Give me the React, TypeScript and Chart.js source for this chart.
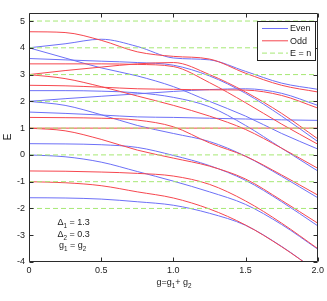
import React, { useEffect, useRef } from "react";
import { Chart, registerables } from "chart.js";
Chart.register(...registerables);

// coupling g = g1 + g2
const gValues = [0, 0.25, 0.5, 0.75, 1, 1.25, 1.5, 1.75, 2];

// Even parity levels
const even1 = [-1.6, -1.61, -1.65, -1.75, -1.88, -2.18, -2.63, -3.42, -4.37];
const even2 = [0, -0.07, -0.27, -0.62, -0.98, -1.38, -1.85, -2.6, -3.52];
const even3 = [0.42, 0.41, 0.38, 0.28, -0.02, -0.4, -0.95, -1.75, -2.65];
const even4 = [1.6, 1.55, 1.49, 1.42, 1.4, 1.37, 1.34, 1.31, 1.29];
const even5 = [2.0, 1.85, 1.5, 1.1, 0.8, 0.5, -0.05, -0.8, -1.6];
const even6 = [2.0, 2.1, 2.19, 2.28, 2.37, 2.44, 2.47, 2.3, 1.85];
const even7 = [2.4, 2.4, 2.38, 2.32, 2.15, 1.8, 1.1, 0.25, -0.6];
const even8 = [3.6, 3.55, 3.5, 3.45, 3.35, 2.95, 2.3, 1.45, 0.5];
const even9 = [4.0, 4.15, 4.32, 4.05, 3.62, 3.55, 3.12, 2.68, 2.45];
const even10 = [4.0, 3.62, 3.25, 2.95, 2.55, 2.0, 1.45, 0.8, 0.22];

// Odd parity levels
const odd1 = [-1.0, -1.04, -1.15, -1.38, -1.61, -2.02, -2.62, -3.43, -4.37];
const odd2 = [-0.6, -0.61, -0.64, -0.69, -0.79, -1.1, -1.72, -2.55, -3.5];
const odd3 = [1.0, 0.9, 0.58, 0.18, -0.12, -0.42, -0.9, -1.7, -2.55];
const odd4 = [1, 1, 1, 1, 1, 1, 1, 1, 1];
const odd5 = [1.4, 1.39, 1.37, 1.3, 1.05, 0.45, -0.05, -0.75, -1.5];
const odd6 = [2.6, 2.58, 2.53, 2.47, 2.45, 2.43, 2.42, 2.22, 1.75];
const odd7 = [3.0, 3.15, 3.28, 3.4, 3.45, 3.0, 2.35, 1.55, 0.6];
const odd8 = [3.0, 2.85, 2.55, 2.2, 1.85, 1.45, 0.95, 0.25, -0.5];
const odd9 = [3.4, 3.4, 3.4, 3.38, 3.3, 2.7, 1.95, 1.15, 0.4];
const odd10 = [4.6, 4.57, 4.28, 3.85, 3.68, 3.58, 3.05, 2.6, 2.35];

const evenSeries = [even1, even2, even3, even4, even5, even6, even7, even8, even9, even10];
const oddSeries = [odd1, odd2, odd3, odd4, odd5, odd6, odd7, odd8, odd9, odd10];

// E = n reference lines
const nLevels = [-2, -1, 0, 1, 2, 3, 4, 5];

const xTicks = [0, 0.5, 1, 1.5, 2];
const yTicks = [-4, -3, -2, -1, 0, 1, 2, 3, 4, 5];
const xRange = [0, 2];
const yRange = [-4, 5.3];

const BLUE = "#6d70f7";
const RED = "#f6474f";
const GREEN = "#a6e874";
const AXIS = "#2b2b2b";
const FONT = "'Liberation Sans', Arial, Helvetica, sans-serif";

type Part = { t: string; sub?: boolean };

function richWidth(ctx: CanvasRenderingContext2D, parts: Part[], size: number) {
  let w = 0;
  for (const p of parts) {
    ctx.font = `${p.sub ? size * 0.7 : size}px ${FONT}`;
    w += ctx.measureText(p.t).width;
  }
  return w;
}

function drawRich(ctx: CanvasRenderingContext2D, parts: Part[], x: number, y: number, size: number) {
  let cx = x;
  ctx.textAlign = "left";
  ctx.textBaseline = "alphabetic";
  for (const p of parts) {
    ctx.font = `${p.sub ? size * 0.7 : size}px ${FONT}`;
    ctx.fillText(p.t, cx, p.sub ? y + 3 : y);
    cx += ctx.measureText(p.t).width;
  }
}

const decorPlugin = {
  id: "decor",
  afterDraw(chart: any) {
    const { ctx, chartArea, scales } = chart;
    const { left, right, top, bottom } = chartArea;
    const xs = scales.x;
    const ys = scales.y;
    ctx.save();
    ctx.strokeStyle = AXIS;
    ctx.lineWidth = 1;
    const L = Math.round(left) + 0.5;
    const R = Math.round(right) - 0.5;
    const T = Math.round(top) + 0.5;
    const B = Math.round(bottom) - 0.5;
    ctx.beginPath();
    ctx.rect(L, T, R - L, B - T);
    ctx.stroke();
    ctx.beginPath();
    for (const v of yTicks) {
      const py = Math.round(ys.getPixelForValue(v)) + 0.5;
      ctx.moveTo(L, py);
      ctx.lineTo(L + 4, py);
      ctx.moveTo(R, py);
      ctx.lineTo(R - 4, py);
    }
    for (const v of xTicks) {
      const px = Math.round(xs.getPixelForValue(v)) + 0.5;
      ctx.moveTo(px, B);
      ctx.lineTo(px, B - 4);
      ctx.moveTo(px, T);
      ctx.lineTo(px, T + 4);
    }
    ctx.stroke();

    // legend box
    const lx = 257.5, ly = 21.5, lw = 58, lh = 39;
    ctx.fillStyle = "#ffffff";
    ctx.fillRect(lx, ly, lw, lh);
    ctx.strokeStyle = "#222";
    ctx.strokeRect(lx, ly, lw, lh);
    const rows = [
      { label: "Even", color: BLUE, dash: [] as number[] },
      { label: "Odd", color: RED, dash: [] as number[] },
      { label: "E = n", color: GREEN, dash: [5, 3] },
    ];
    rows.forEach((r, i) => {
      const yy = 28.5 + i * 12.3;
      ctx.beginPath();
      ctx.setLineDash(r.dash);
      ctx.strokeStyle = r.color;
      ctx.moveTo(262, yy);
      ctx.lineTo(288, yy);
      ctx.stroke();
      ctx.setLineDash([]);
      ctx.fillStyle = "#222";
      ctx.font = `9px ${FONT}`;
      ctx.textAlign = "left";
      ctx.textBaseline = "middle";
      ctx.fillText(r.label, 290, yy + 0.5);
    });

    // parameter annotation
    ctx.fillStyle = "#222";
    drawRich(ctx, [{ t: "\u0394" }, { t: "1", sub: true }, { t: " = 1.3" }], 57.5, 225, 9);
    drawRich(ctx, [{ t: "\u0394" }, { t: "2", sub: true }, { t: " = 0.3" }], 57.5, 237, 9);
    drawRich(ctx, [{ t: "g" }, { t: "1", sub: true }, { t: " = g" }, { t: "2", sub: true }], 59, 248, 9);

    // x title
    const xt: Part[] = [{ t: "g=g" }, { t: "1", sub: true }, { t: "+ g" }, { t: "2", sub: true }];
    const w = richWidth(ctx, xt, 9);
    drawRich(ctx, xt, 174 - w / 2, 285, 9);

    // y title
    ctx.save();
    ctx.translate(8.5, 137);
    ctx.rotate(-Math.PI / 2);
    ctx.font = `10px ${FONT}`;
    ctx.textAlign = "center";
    ctx.textBaseline = "middle";
    ctx.fillText("E", 0, 0);
    ctx.restore();
    ctx.restore();
  },
};

export default function App() {
  const ref = useRef<HTMLCanvasElement | null>(null);
  useEffect(() => {
    if (!ref.current) return;
    const toPoints = (s: number[]) => gValues.map((g, i) => ({ x: g, y: s[i] }));
    const datasets: any[] = [];
    nLevels.forEach((n) =>
      datasets.push({
        data: [
          { x: xRange[0], y: n },
          { x: xRange[1], y: n },
        ],
        borderColor: GREEN,
        borderDash: [5, 3],
        borderWidth: 1,
        pointRadius: 0,
        order: 0,
      })
    );
    oddSeries.forEach((s) =>
      datasets.push({
        data: toPoints(s),
        borderColor: RED,
        borderWidth: 1,
        pointRadius: 0,
        cubicInterpolationMode: "monotone",
        order: 1,
      })
    );
    evenSeries.forEach((s) =>
      datasets.push({
        data: toPoints(s),
        borderColor: BLUE,
        borderWidth: 1,
        pointRadius: 0,
        cubicInterpolationMode: "monotone",
        order: 2,
      })
    );
    const tickFont = { family: FONT, size: 9 };
    const chart = new Chart(ref.current, {
      type: "line",
      data: { datasets },
      options: {
        animation: false,
        responsive: false,
        devicePixelRatio: 1,
        layout: { padding: { left: 0, top: 13, right: 8, bottom: 0 } },
        plugins: { legend: { display: false }, tooltip: { enabled: false } },
        scales: {
          x: {
            type: "linear",
            min: xRange[0],
            max: xRange[1],
            grid: { display: false, drawTicks: false },
            border: { display: false },
            ticks: { font: tickFont, color: "#222", padding: 3, autoSkip: false, maxRotation: 0 },
            afterBuildTicks: (s: any) => {
              s.ticks = xTicks.map((v) => ({ value: v }));
            },
            afterFit: (s: any) => {
              s.height = 39;
            },
          },
          y: {
            type: "linear",
            min: yRange[0],
            max: yRange[1],
            grid: { display: false, drawTicks: false },
            border: { display: false },
            ticks: { font: tickFont, color: "#222", padding: 4, autoSkip: false },
            afterBuildTicks: (s: any) => {
              s.ticks = yTicks.map((v) => ({ value: v }));
            },
            afterFit: (s: any) => {
              s.width = 29;
            },
          },
        },
      } as any,
      plugins: [decorPlugin],
    });
    return () => chart.destroy();
  }, []);
  return (
    <div style={{ position: "fixed", left: 0, top: 0, width: 327, height: 301, background: "#fff" }}>
      <canvas ref={ref} width={327} height={301} style={{ width: 327, height: 301, display: "block" }} />
    </div>
  );
}
